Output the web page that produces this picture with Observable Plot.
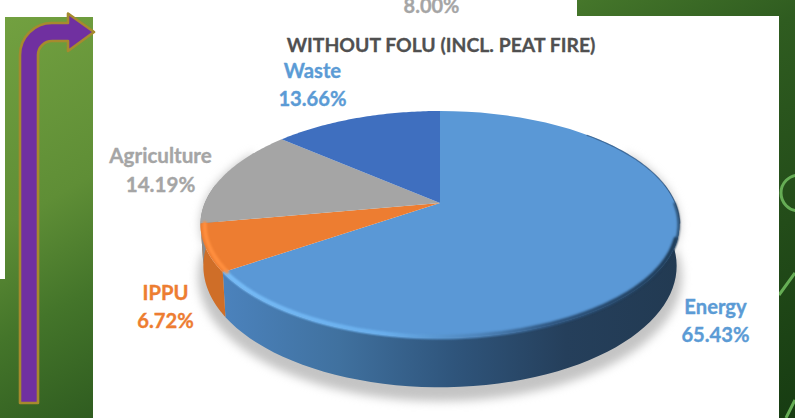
<!DOCTYPE html>
<html>
<head>
<meta charset="utf-8">
<script src="https://cdn.jsdelivr.net/npm/d3@7"></script>
<script src="https://cdn.jsdelivr.net/npm/@observablehq/plot@0.6"></script>
<style>
html,body{margin:0;padding:0;background:#fff;overflow:hidden}
#stage{position:relative;width:795px;height:418px;overflow:hidden;
  background:linear-gradient(150deg,#74a241 0%,#5f8e36 26%,#44752a 39%,#2f5c20 54%,#173c12 100%)}
.w{position:absolute;background:#fff}
#deco,#chart{position:absolute;left:0;top:0}
#chart svg{background:transparent;display:block}
</style>
</head>
<body>
<div id="stage">
  <svg id="deco" width="795" height="418">
    <circle cx="799" cy="193" r="18" fill="none" stroke="#66ad55" stroke-width="3"/>
    <path d="M779 295L795 273M786 418L795 400" fill="none" stroke="#66ad55" stroke-width="3"/>
  </svg>
  <div class="w" style="left:0;top:0;width:577px;height:17px"></div>
  <div class="w" style="left:0;top:0;width:5px;height:279px"></div>
  <div class="w" style="left:93px;top:16px;width:686px;height:402px"></div>
  <svg id="arrow" width="795" height="418" style="position:absolute;left:0;top:0">
    <path d="M20 403V55A32 32 0 0 1 52 23H68V13.5L94 32L68 51V41H52A14 14 0 0 0 38 55V403Z"
      fill="#7030a0" stroke="#a68a2e" stroke-width="2.6" stroke-linejoin="round"/>
  </svg>
  <div id="chart"></div>
</div>
<script>
const categories = ["Energy", "IPPU", "Agriculture", "Waste"];
const shares = [65.43, 6.72, 14.19, 13.66];
const shareLabels = ["65.43%", "6.72%", "14.19%", "13.66%"];
const chartTitle = "WITHOUT FOLU (INCL. PEAT FIRE)";
const clippedLabel = "8.00%";

// Styling and layout, kept apart from the data
const faceColors = {Energy: "#5a98d6", IPPU: "#ed7d31", Agriculture: "#a5a5a5", Waste: "#3f6fbf"};
const wallColors = {Energy: "url(#wallEnergy)", IPPU: "#cf6e28", Agriculture: "#8a8a8a", Waste: "#355da0"};
const textColors = {Energy: "#5b9bd5", IPPU: "#ed7d31", Agriculture: "#a5a5a5", Waste: "#5b9bd5"};
const labelAt = {Energy: [715, 318.5], IPPU: [165, 304.5], Agriculture: [160, 168], Waste: [312, 82.5]};
const tilt = 0.189, depth = 0.366, lowerShrink = 0.988;

// Perspective view of a unit disc: angle clockwise from 12 o'clock
const project = (deg, r = 1, h = 0, sx = 1) => {
  const a = deg * Math.PI / 180, u = Math.sin(a) * r, v = -Math.cos(a) * r;
  const d = 1 - tilt * v;
  return {x: sx * u / d, y: v / d + h / d};
};
const range = (a, b) => d3.range(0, 61).map(i => a + (b - a) * i / 60);

let run = 0;
const slices = categories.map((name, i) => {
  const start = run * 3.6; run += shares[i];
  return {name, start, end: run * 3.6};
});

const faces = slices.flatMap(s => range(s.start, s.end).map(deg => {
  const p = project(deg), o = project(0, 0);
  return {name: s.name, x1: p.x, y1: p.y, x2: o.x, y2: o.y};
}));
const walls = slices.filter(s => s.end > 80 && s.start < 280).flatMap(s =>
  range(Math.max(s.start, 80), Math.min(s.end, 280)).map(deg => {
    const p = project(deg), q = project(deg, 1, depth, lowerShrink);
    return {name: s.name, x1: p.x, y1: p.y, x2: q.x, y2: q.y};
  }));
const shadow = range(60, 300).map(deg => {
  const p = project(deg), q = project(deg, 1.01, depth + 0.09);
  return {x1: p.x, y1: p.y, x2: q.x, y2: q.y};
});
const eEnd = slices[0].end;
const edgeEnergy = range(45, 100).map(deg => project(deg, 0.999));
const rimThin = range(90, eEnd).map(deg => project(deg, 0.995));
const rimEnergy = range(108, eEnd).map(deg => project(deg, 0.99));
const rimIppu = range(slices[1].start, slices[1].end).map(deg => project(deg, 0.985));

const defs = () => {
  const d = d3.create("svg:defs");
  const g = d.append("linearGradient").attr("id", "wallEnergy")
    .attr("gradientUnits", "userSpaceOnUse").attr("x1", 225).attr("x2", 680).attr("y1", 0).attr("y2", 0);
  [[0, "#4b82bc"], [0.25, "#40719f"], [0.5, "#2f557c"], [0.75, "#253f5b"], [1, "#223a52"]]
    .forEach(([o, c]) => g.append("stop").attr("offset", o).attr("stop-color", c));
  const r = d.append("linearGradient").attr("id", "rimEnergy")
    .attr("gradientUnits", "userSpaceOnUse").attr("x1", 225).attr("x2", 680).attr("y1", 0).attr("y2", 0);
  [[0, "#77bcf7"], [0.35, "#69aeec"], [0.55, "#4f86bd"], [0.72, "#2f5680"], [1, "#1e3a55"]]
    .forEach(([o, c]) => r.append("stop").attr("offset", o).attr("stop-color", c));
  return d.node();
};

const labelMarks = categories.map((name, i) => Plot.text([name + "\n" + shareLabels[i]], {
  text: d => d, frameAnchor: "top-left", dx: labelAt[name][0], dy: labelAt[name][1],
  fill: textColors[name], stroke: textColors[name], strokeWidth: 0.35, fontSize: name === "Agriculture" ? 20.6 : 20.2, fontWeight: 700, lineHeight: 1.4, textAnchor: "middle", lineAnchor: "middle"
}));

const chart = Plot.plot({
  width: 795, height: 418, margin: 0,
  style: {background: "transparent", fontFamily: "Lato, 'Open Sans', sans-serif"},
  x: {domain: [-1, 1], range: [204.8, 675.2], axis: null},
  y: {domain: [-1, 1], range: [93.6, 312.4], axis: null},
  marks: [
    defs,
    Plot.area(shadow, {x1: "x1", y1: "y1", x2: "x2", y2: "y2", fill: "#b5b5b5", fillOpacity: 0.8, imageFilter: "blur(5px)"}),
    ...slices.map(s => Plot.area(walls.filter(w => w.name === s.name), {x1: "x1", y1: "y1", x2: "x2", y2: "y2", fill: wallColors[s.name]})),
    ...slices.map(s => Plot.area(faces.filter(f => f.name === s.name), {x1: "x1", y1: "y1", x2: "x2", y2: "y2", fill: faceColors[s.name]})),
    Plot.line(edgeEnergy, {x: "x", y: "y", stroke: "#2f5680", strokeWidth: 1.2, strokeOpacity: 0.7, imageFilter: "blur(0.6px)"}),
    Plot.line(rimThin, {x: "x", y: "y", stroke: "url(#rimEnergy)", strokeWidth: 2, imageFilter: "blur(0.8px)"}),
    Plot.line(rimEnergy, {x: "x", y: "y", stroke: "url(#rimEnergy)", strokeWidth: 4, imageFilter: "blur(1.2px)"}),
    Plot.line(rimIppu, {x: "x", y: "y", stroke: "#ff8f3f", strokeWidth: 4, imageFilter: "blur(1.2px)"}),
    Plot.text([chartTitle], {text: d => d, frameAnchor: "top-left", dx: 440.5, dy: 45, fill: "#505050", stroke: "#505050", strokeWidth: 0.3, fontSize: 19.4, fontWeight: 700, textAnchor: "middle", lineAnchor: "middle"}),
    Plot.text([clippedLabel], {text: d => d, frameAnchor: "top-left", dx: 431, dy: 6, fill: "#a5a5a5", stroke: "#a5a5a5", strokeWidth: 0.3, fontSize: 20, fontWeight: 700, textAnchor: "middle", lineAnchor: "middle"}),
    ...labelMarks
  ]
});
document.getElementById("chart").append(chart);
</script>
</body>
</html>
